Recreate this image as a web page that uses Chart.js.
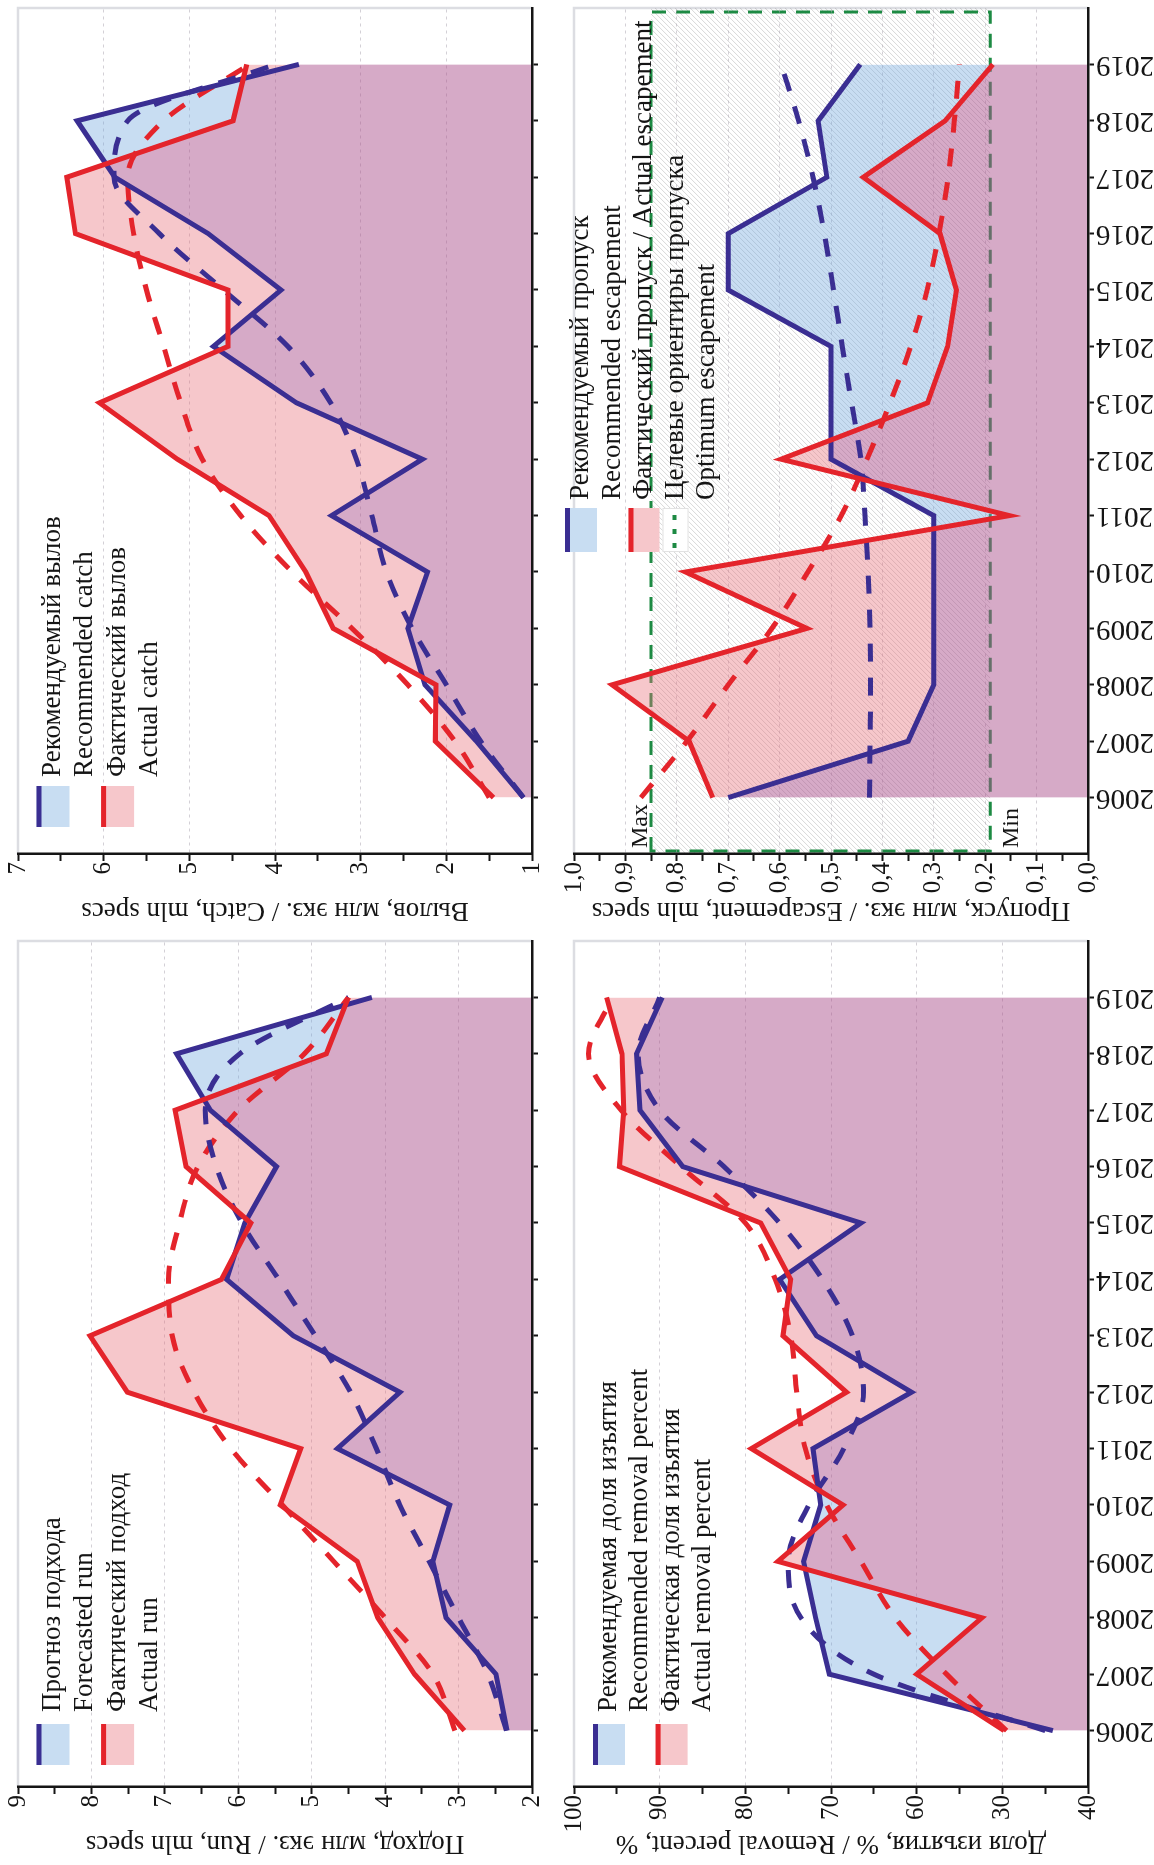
<!DOCTYPE html>
<html lang="ru">
<head>
<meta charset="utf-8">
<title>Подход, вылов, пропуск и доля изъятия, 2006–2019</title>
<script src="https://cdn.jsdelivr.net/npm/chart.js@4.4.1/dist/chart.umd.min.js"></script>
<style>
  html, body { margin: 0; padding: 0; background: #ffffff; }
  body { position: relative; width: 1154px; height: 1865px; overflow: hidden; }
  .panel { position: absolute; transform: rotate(-90deg); transform-origin: 50% 50%; }
  .panel canvas { display: block; }
</style>
</head>
<body>
<div class="panel" id="box-catch"><canvas id="chart-catch"></canvas></div>
<div class="panel" id="box-esc"><canvas id="chart-esc"></canvas></div>
<div class="panel" id="box-run"><canvas id="chart-run"></canvas></div>
<div class="panel" id="box-removal"><canvas id="chart-removal"></canvas></div>
<script>
// ---------- data ----------
const years = [2006, 2007, 2008, 2009, 2010, 2011, 2012, 2013, 2014, 2015, 2016, 2017, 2018, 2019];

// Вылов, млн экз. / Catch, mln specs
const catchRecommended      = [1.10, 1.65, 2.25, 2.45, 2.22, 3.34, 2.28, 3.75, 4.72, 3.93, 4.78, 5.87, 6.31, 3.72];
const catchActual           = [1.45, 2.13, 2.12, 3.32, 3.64, 4.07, 5.14, 6.05, 4.55, 4.55, 6.33, 6.43, 4.49, 4.33];
const catchRecommendedTrend = [1.10, 1.60, 2.00, 2.40, 2.70, 2.87, 3.05, 3.35, 3.85, 4.60, 5.35, 5.88, 5.72, 4.00];
const catchActualTrend      = [1.50, 1.90, 2.45, 3.10, 3.80, 4.40, 4.85, 5.10, 5.30, 5.50, 5.65, 5.72, 5.30, 4.30];
const catchTicks      = [1, 2, 3, 4, 5, 6, 7];
const catchTickLabels = ['1', '2', '3', '4', '5', '6', '7'];

// Пропуск, млн экз. / Escapement, mln specs
const escRecommended      = [0.700, 0.350, 0.300, 0.300, 0.300, 0.300, 0.500, 0.500, 0.500, 0.700, 0.700, 0.508, 0.525, 0.443];
const escActual           = [0.730, 0.776, 0.926, 0.547, 0.783, 0.153, 0.597, 0.312, 0.273, 0.256, 0.288, 0.437, 0.278, 0.185];
const escRecommendedTrend = [0.425, 0.424, 0.423, 0.424, 0.428, 0.434, 0.442, 0.460, 0.478, 0.495, 0.513, 0.535, 0.563, 0.597];
const escActualTrend      = [0.870, 0.780, 0.700, 0.615, 0.545, 0.480, 0.430, 0.385, 0.345, 0.313, 0.290, 0.272, 0.260, 0.250];
const escOptimum = [0.19, 0.85];           // Min, Max
const escTicks      = [0, 0.1, 0.2, 0.3, 0.4, 0.5, 0.6, 0.7, 0.8, 0.9, 1.0];
const escTickLabels = ['0,0', '0,1', '0,2', '0,3', '0,4', '0,5', '0,6', '0,7', '0,8', '0,9', '1,0'];

// Подход, млн экз. / Run, mln specs
const runForecast      = [2.34, 2.49, 3.17, 3.35, 3.12, 4.65, 3.80, 5.25, 6.16, 5.91, 5.48, 6.38, 6.84, 4.18];
const runActual        = [2.92, 3.60, 4.10, 4.38, 5.43, 5.15, 7.51, 8.02, 6.23, 5.83, 6.71, 6.86, 4.80, 4.50];
const runForecastTrend = [2.35, 2.60, 3.00, 3.40, 3.80, 4.12, 4.47, 4.95, 5.45, 5.95, 6.30, 6.45, 5.98, 4.50];
const runActualTrend   = [3.05, 3.35, 4.00, 4.70, 5.40, 6.10, 6.60, 6.90, 6.95, 6.80, 6.55, 6.00, 5.10, 4.50];
const runTicks      = [2, 3, 4, 5, 6, 7, 8, 9];
const runTickLabels = ['2', '3', '4', '5', '6', '7', '8', '9'];

// Доля изъятия, % / Removal percent, %
const removalRecommended      = [44.1, 70.2, 71.8, 73.2, 71.2, 72.1, 60.6, 71.7, 76.0, 66.5, 87.3, 92.3, 92.7, 89.7];
const removalActual           = [49.8, 60.0, 52.4, 76.2, 68.6, 79.3, 68.2, 75.6, 74.7, 78.2, 94.7, 94.2, 94.4, 96.2];
const removalRecommendedTrend = [45.0, 65.0, 73.5, 75.0, 72.6, 68.5, 66.2, 67.5, 71.0, 76.0, 82.5, 90.0, 92.5, 90.0];
const removalActualTrend      = [49.5, 56.5, 62.5, 66.5, 70.5, 73.0, 74.0, 74.7, 76.5, 80.0, 87.5, 94.5, 98.3, 95.5];
const removalTicks      = [40, 50, 60, 70, 80, 90, 100];
const removalTickLabels = ['40', '30', '60', '70', '80', '90', '100'];

// ---------- styling ----------
const SERIF = "'Liberation Serif', 'Times New Roman', serif";
const INK = '#151515';
const BLUE = '#3a2e92';
const RED = '#e4242b';
const GREEN = '#1d8a43';
const BLUE_FILL = 'rgba(118,170,223,0.40)';
const PINK_FILL = 'rgba(233,115,125,0.40)';
const PURPLE_FILL = 'rgba(173,85,143,0.50)';
const BLUE_SWATCH = '#c8ddf2';
const PINK_SWATCH = '#f6c7cb';
const GRID = 'rgba(175,170,180,0.55)';
const FRAME = '#dcdde2';

// Chart area inside every (unrotated) canvas
const AREA_LEFT = 78, AREA_TOP = 18, AREA_RIGHT_PAD = 8, AREA_BOTTOM = 532;

function toPoints(values) {
  return years.map((x, i) => ({ x, y: values[i] }));
}

// Lower envelope of two series, including the points where they cross
function lowerEnvelope(a, b) {
  const out = [];
  for (let i = 0; i < years.length; i++) {
    out.push({ x: years[i], y: Math.min(a[i], b[i]) });
    if (i < years.length - 1) {
      const d0 = a[i] - b[i], d1 = a[i + 1] - b[i + 1];
      if (d0 * d1 < 0) {
        const t = d0 / (d0 - d1);
        out.push({ x: years[i] + t * (years[i + 1] - years[i]), y: a[i] + t * (a[i + 1] - a[i]) });
      }
    }
  }
  return out;
}

const framePlugin = {
  id: 'frameLines',
  beforeDraw(chart) {
    const { ctx, chartArea: a } = chart;
    ctx.save();
    ctx.strokeStyle = FRAME;
    ctx.lineWidth = 2.5;
    ctx.beginPath();
    ctx.moveTo(a.left, a.top);
    ctx.lineTo(a.right, a.top);
    ctx.lineTo(a.right, a.bottom);
    ctx.stroke();
    ctx.restore();
  }
};

function legendPlugin(spec) {
  return {
    id: 'panelLegend',
    afterDraw(chart) {
      const { ctx } = chart;
      ctx.save();
      spec.entries.forEach(e => {
        const cy = spec.rowY0 + e.row * spec.rowH;
        const top = cy - e.h / 2;
        if (e.type === 'area') {
          ctx.fillStyle = e.fill;
          ctx.fillRect(spec.x, top, spec.w, e.h);
          ctx.fillStyle = e.line;
          ctx.fillRect(spec.x, top, spec.w, 5);
        } else {
          ctx.fillStyle = '#ffffff';
          ctx.fillRect(spec.x, top, spec.w, e.h);
          ctx.strokeStyle = '#e2e2e2';
          ctx.lineWidth = 1;
          ctx.strokeRect(spec.x + 0.5, top + 0.5, spec.w - 1, e.h - 1);
          ctx.strokeStyle = GREEN;
          ctx.lineWidth = 4;
          ctx.setLineDash([5, 9]);
          ctx.beginPath();
          ctx.moveTo(spec.x + 4, top + 12);
          ctx.lineTo(spec.x + spec.w - 2, top + 12);
          ctx.stroke();
          ctx.setLineDash([]);
        }
      });
      ctx.fillStyle = INK;
      ctx.font = '27px ' + SERIF;
      ctx.textBaseline = 'middle';
      ctx.textAlign = 'left';
      spec.lines.forEach((t, i) => ctx.fillText(t, spec.textX, spec.rowY0 + i * spec.rowH));
      ctx.restore();
    }
  };
}

// Hatched optimum band with dashed green outline and Max / Min marks
function optimumPlugin(range) {
  return {
    id: 'optimumBand',
    beforeDraw(chart) {
      const { ctx, chartArea: a, scales: { y } } = chart;
      const y1 = y.getPixelForValue(range[1]);
      const y0 = y.getPixelForValue(range[0]);
      ctx.save();
      ctx.beginPath();
      ctx.rect(a.left, y1, a.right - a.left, y0 - y1);
      ctx.clip();
      ctx.strokeStyle = 'rgba(150,150,150,0.38)';
      ctx.lineWidth = 1;
      const h = y0 - y1;
      for (let x = a.left - h; x < a.right + h; x += 5) {
        ctx.beginPath();
        ctx.moveTo(x + h, y1);
        ctx.lineTo(x, y0);
        ctx.stroke();
      }
      ctx.restore();
      ctx.save();
      ctx.strokeStyle = GREEN;
      ctx.lineWidth = 3;
      ctx.setLineDash([14, 10]);
      ctx.strokeRect(a.left + 3, y1, a.right - a.left - 7, y0 - y1);
      ctx.restore();
    },
    afterDraw(chart) {
      const { ctx, chartArea: a, scales: { y } } = chart;
      ctx.save();
      ctx.fillStyle = INK;
      ctx.font = '24px ' + SERIF;
      ctx.textAlign = 'left';
      ctx.textBaseline = 'alphabetic';
      ctx.fillText('Max', a.left + 6, y.getPixelForValue(range[1]) - 4);
      ctx.textBaseline = 'top';
      ctx.fillText('Min', a.left + 6, y.getPixelForValue(range[0]) + 9);
      ctx.restore();
    }
  };
}

function buildPanel(p) {
  const box = document.getElementById('box-' + p.id);
  const canvas = document.getElementById('chart-' + p.id);
  // The panel is drawn upright and turned a quarter turn counter-clockwise
  const wo = p.frame.H, ho = p.frame.W;
  box.style.left = (p.frame.L + (p.frame.W - wo) / 2) + 'px';
  box.style.top = (p.frame.T + (p.frame.H - ho) / 2) + 'px';
  box.style.width = wo + 'px';
  box.style.height = ho + 'px';
  canvas.width = wo;
  canvas.height = ho;
  canvas.style.width = wo + 'px';
  canvas.style.height = ho + 'px';

  const majors = p.ticks;
  const minors = majors.slice(1).map((v, i) => (v + majors[i]) / 2);
  const allTicks = majors.concat(minors).sort((u, v) => u - v);
  const isMajor = v => majors.some(t => Math.abs(t - v) < 1e-9);
  const labelFor = v => {
    const k = majors.findIndex(t => Math.abs(t - v) < 1e-9);
    return k < 0 ? '' : p.tickLabels[k];
  };
  const yMin = majors[0], yMax = majors[majors.length - 1];

  const lineBase = { pointRadius: 0, pointHoverRadius: 0, borderWidth: 5, borderJoinStyle: 'miter', borderCapStyle: 'butt' };

  const datasets = [
    Object.assign({}, lineBase, {
      label: p.names[0], data: toPoints(p.rec), borderColor: BLUE, tension: 0,
      fill: { target: 1, above: BLUE_FILL, below: 'rgba(0,0,0,0)' }, order: 1
    }),
    Object.assign({}, lineBase, {
      label: p.names[1], data: toPoints(p.act), borderColor: RED, tension: 0,
      fill: { target: 0, above: PINK_FILL, below: 'rgba(0,0,0,0)' }, order: 0
    }),
    Object.assign({}, lineBase, {
      label: p.names[0] + ' (тренд)', data: toPoints(p.recTrend), borderColor: BLUE, borderDash: [18, 16],
      cubicInterpolationMode: 'monotone', fill: false, order: 2
    }),
    Object.assign({}, lineBase, {
      label: p.names[1] + ' (тренд)', data: toPoints(p.actTrend), borderColor: RED, borderDash: [18, 16],
      cubicInterpolationMode: 'monotone', fill: false, order: 3
    }),
    {
      label: 'base', data: lowerEnvelope(p.rec, p.act), pointRadius: 0, borderWidth: 0,
      borderColor: 'rgba(0,0,0,0)', backgroundColor: PURPLE_FILL, fill: 'origin', tension: 0, order: 4
    }
  ];

  const plugins = [framePlugin];
  if (p.optimum) plugins.push(optimumPlugin(p.optimum));
  plugins.push(legendPlugin(p.legend));

  new Chart(canvas, {
    type: 'line',
    data: { datasets },
    options: {
      responsive: false,
      maintainAspectRatio: false,
      animation: false,
      devicePixelRatio: 1,
      events: [],
      layout: { padding: { top: AREA_TOP, right: AREA_RIGHT_PAD, bottom: 0, left: 0 } },
      plugins: {
        legend: { display: false },
        tooltip: { enabled: false },
        filler: { drawTime: 'beforeDatasetsDraw' }
      },
      scales: {
        x: {
          type: 'linear', position: 'bottom', min: 2005, max: 2020,
          afterBuildTicks: s => { s.ticks = years.map(v => ({ value: v })); },
          afterFit: s => { s.height = ho - AREA_BOTTOM; },
          grid: { drawOnChartArea: false, drawTicks: true, tickLength: 6, tickWidth: 2, tickColor: INK },
          border: { display: true, color: INK, width: 2.5, z: 1 },
          ticks: {
            autoSkip: false, maxRotation: 90, minRotation: 90, padding: 2, color: INK,
            font: { family: SERIF, size: 29 },
            callback: v => (p.showYears ? String(v) : '')
          }
        },
        y: {
          type: 'linear', position: 'left', min: yMin, max: yMax,
          afterBuildTicks: s => { s.ticks = allTicks.map(v => ({ value: v })); },
          afterFit: s => { s.width = AREA_LEFT; },
          grid: {
            color: c => {
              const v = c.tick ? c.tick.value : NaN;
              return isMajor(v) && v !== yMin && v !== yMax ? GRID : 'rgba(0,0,0,0)';
            },
            lineWidth: 1, drawTicks: true, tickLength: 7, tickWidth: 2, tickColor: INK
          },
          border: { display: true, color: INK, width: 2.5, dash: [3, 4], z: 1 },
          ticks: {
            autoSkip: false, padding: 1, color: INK,
            font: { family: SERIF, size: 25 },
            callback: v => labelFor(v)
          },
          title: {
            display: true, text: p.title, color: INK,
            font: { family: SERIF, size: 27 },
            padding: { top: 6, bottom: 0 }
          }
        }
      }
    },
    plugins
  });
}

buildPanel({
  id: 'catch', frame: { L: 0, T: 0, W: 556, H: 932 },
  rec: catchRecommended, act: catchActual, recTrend: catchRecommendedTrend, actTrend: catchActualTrend,
  ticks: catchTicks, tickLabels: catchTickLabels, showYears: false,
  names: ['Рекомендуемый вылов', 'Фактический вылов'],
  title: 'Вылов, млн экз. / Catch, mln specs',
  legend: {
    x: 105, w: 41, textX: 155, rowY0: 53, rowH: 32.3,
    entries: [
      { row: 0, type: 'area', line: BLUE, fill: BLUE_SWATCH, h: 33 },
      { row: 2, type: 'area', line: RED, fill: PINK_SWATCH, h: 33 }
    ],
    lines: ['Рекомендуемый вылов', 'Recommended catch', 'Фактический вылов', 'Actual catch']
  }
});

buildPanel({
  id: 'esc', frame: { L: 556, T: 0, W: 598, H: 932 },
  rec: escRecommended, act: escActual, recTrend: escRecommendedTrend, actTrend: escActualTrend,
  ticks: escTicks, tickLabels: escTickLabels, showYears: true, optimum: escOptimum,
  names: ['Рекомендуемый пропуск', 'Фактический пропуск'],
  title: 'Пропуск, млн экз. / Escapement, mln specs',
  legend: {
    x: 380, w: 44, textX: 432, rowY0: 25, rowH: 31.5,
    entries: [
      { row: 0, type: 'area', line: BLUE, fill: BLUE_SWATCH, h: 32 },
      { row: 2, type: 'area', line: RED, fill: PINK_SWATCH, h: 31 },
      { row: 3, type: 'optimum', h: 26 }
    ],
    lines: ['Рекомендуемый пропуск', 'Recommended escapement', 'Фактический пропуск / Actual escapement',
            'Целевые ориентиры пропуска', 'Optimum escapement']
  }
});

buildPanel({
  id: 'run', frame: { L: 0, T: 933, W: 556, H: 932 },
  rec: runForecast, act: runActual, recTrend: runForecastTrend, actTrend: runActualTrend,
  ticks: runTicks, tickLabels: runTickLabels, showYears: false,
  names: ['Прогноз подхода', 'Фактический подход'],
  title: 'Подход, млн экз. / Run, mln specs',
  legend: {
    x: 100, w: 41, textX: 153, rowY0: 53, rowH: 32.3,
    entries: [
      { row: 0, type: 'area', line: BLUE, fill: BLUE_SWATCH, h: 33 },
      { row: 2, type: 'area', line: RED, fill: PINK_SWATCH, h: 33 }
    ],
    lines: ['Прогноз подхода', 'Forecasted run', 'Фактический подход', 'Actual run']
  }
});

buildPanel({
  id: 'removal', frame: { L: 556, T: 933, W: 598, H: 932 },
  rec: removalRecommended, act: removalActual, recTrend: removalRecommendedTrend, actTrend: removalActualTrend,
  ticks: removalTicks, tickLabels: removalTickLabels, showYears: true,
  names: ['Рекомендуемая доля изъятия', 'Фактическая доля изъятия'],
  title: 'Доля изъятия, % / Removal percent, %',
  legend: {
    x: 100, w: 41, textX: 153, rowY0: 53, rowH: 31.3,
    entries: [
      { row: 0, type: 'area', line: BLUE, fill: BLUE_SWATCH, h: 32 },
      { row: 2, type: 'area', line: RED, fill: PINK_SWATCH, h: 32 }
    ],
    lines: ['Рекомендуемая доля изъятия', 'Recommended removal percent', 'Фактическая доля изъятия', 'Actual removal percent']
  }
});
</script>
</body>
</html>
